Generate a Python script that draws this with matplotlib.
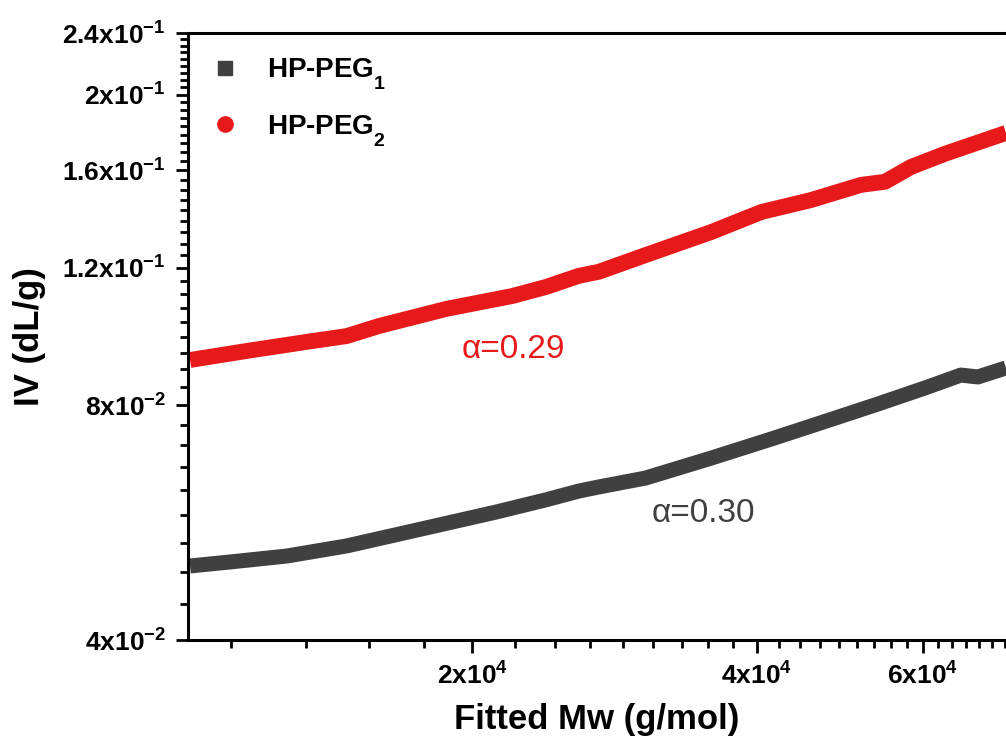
import matplotlib
matplotlib.use("Agg")
import matplotlib.pyplot as plt
from matplotlib.ticker import FixedLocator, FixedFormatter, NullFormatter
from matplotlib import _mathtext

plt.rcParams['font.family'] = ['Liberation Sans', 'DejaVu Sans']
plt.rcParams['mathtext.fontset'] = 'custom'
plt.rcParams['mathtext.rm'] = 'Liberation Sans:bold'
plt.rcParams['mathtext.bf'] = 'Liberation Sans:bold'
plt.rcParams['mathtext.it'] = 'Liberation Sans:bold:italic'
# drop subscripts a little lower, like the reference
try:
    _mathtext.FontConstantsBase.sub1 = 0.85
except Exception:
    pass

# ---- data ----
peg2_mw = [1.005e4, 1.154e4, 1.355e4, 1.472e4, 1.595e4, 1.877e4, 2.204e4, 2.394e4,
           2.594e4, 2.723e4, 3.052e4, 3.584e4, 4.048e4, 4.571e4, 5.162e4, 5.472e4,
           5.830e4, 6.332e4, 7.35e4]
peg2_iv = [0.09142, 0.09389, 0.09669, 0.0981, 0.1011, 0.1063, 0.1104, 0.1134,
           0.1172, 0.1186, 0.1246, 0.1334, 0.1415, 0.1466, 0.1533, 0.1547,
           0.1616, 0.1680, 0.1787]

peg1_mw = [1.005e4, 1.108e4, 1.272e4, 1.472e4, 1.728e4, 2.120e4, 2.394e4, 2.594e4,
           2.723e4, 3.052e4, 3.584e4, 4.147e4, 4.571e4, 5.379e4, 6.075e4, 6.584e4,
           6.862e4, 7.35e4]
peg1_iv = [0.04977, 0.05036, 0.05125, 0.0528, 0.05517, 0.05836, 0.0605, 0.06209,
           0.06284, 0.06452, 0.06845, 0.0724, 0.07524, 0.08028, 0.08442, 0.08744,
           0.08695, 0.0893]

series_labels = [r'HP-PEG$_{1}$', r'HP-PEG$_{2}$']
alpha_labels = [r'α=0.30', r'α=0.29']

x_major = [2e4, 4e4, 6e4]
x_major_labels = [r'2x10$^{4}$', r'4x10$^{4}$', r'6x10$^{4}$']
y_major = [0.04, 0.08, 0.12, 0.16, 0.20, 0.24]
y_major_labels = [r'4x10$^{-2}$', r'8x10$^{-2}$', r'1.2x10$^{-1}$',
                  r'1.6x10$^{-1}$', r'2x10$^{-1}$', r'2.4x10$^{-1}$']

xlim = (1e4, 7.35e4)
ylim = (0.04, 0.24)

c_black = '#404040'
c_red = '#E8191B'

fig = plt.figure(figsize=(10.06, 7.42), dpi=100)
ax = fig.add_axes([188/1006, 102/742, 1 - 188/1006, (742-33-102)/742])

ax.plot(peg1_mw, peg1_iv, color=c_black, lw=10.8, solid_capstyle='butt',
        solid_joinstyle='round')
ax.plot(peg2_mw, peg2_iv, color=c_red, lw=11.4, solid_capstyle='butt',
        solid_joinstyle='round')

ax.set_xscale('log')
ax.set_yscale('log')
ax.set_xlim(*xlim)
ax.set_ylim(*ylim)

# ticks
ax.xaxis.set_major_locator(FixedLocator(x_major))
ax.xaxis.set_major_formatter(FixedFormatter(x_major_labels))
xminor = [k * 2e4 / 9 for k in range(1, 40) if (k % 9) != 0]
xminor = [v for v in xminor if xlim[0] < v < xlim[1]]
ax.xaxis.set_minor_locator(FixedLocator(xminor))
ax.xaxis.set_minor_formatter(NullFormatter())

ax.yaxis.set_major_locator(FixedLocator(y_major))
ax.yaxis.set_major_formatter(FixedFormatter(y_major_labels))
yminor = [k * 0.04 / 9 for k in range(1, 60) if (k % 9) != 0]
yminor = [v for v in yminor if ylim[0] < v < ylim[1]]
ax.yaxis.set_minor_locator(FixedLocator(yminor))
ax.yaxis.set_minor_formatter(NullFormatter())

ax.tick_params(which='major', direction='out', length=9, width=2.0, pad=7,
               labelsize=19)
ax.tick_params(which='minor', direction='out', length=5.5, width=2.0)
for lab in ax.get_xticklabels() + ax.get_yticklabels():
    lab.set_fontweight('bold')

for s in ['left', 'bottom', 'top']:
    ax.spines[s].set_linewidth(2.2)
ax.spines['right'].set_visible(False)

ax.set_xlabel('Fitted Mw (g/mol)', fontsize=25, fontweight='bold', labelpad=10)
ax.set_ylabel('IV (dL/g)', fontsize=25, fontweight='bold', labelpad=12)

# legend
h1, = ax.plot([], [], ls='none', marker='s', ms=10, color=c_black)
h2, = ax.plot([], [], ls='none', marker='o', ms=11, color=c_red)
leg = ax.legend([h1, h2], series_labels, loc='upper left',
                bbox_to_anchor=(0.0, 1.0), frameon=False,
                prop={'weight': 'bold', 'size': 20}, handlelength=0.95,
                handletextpad=1.05, labelspacing=0.75, borderaxespad=0.3,
                borderpad=0.55)

# slope annotations
ax.text(1.947e4, 0.09197, alpha_labels[1], color=c_red, fontsize=24,
        ha='left', va='baseline')
ax.text(3.097e4, 0.05669, alpha_labels[0], color=c_black, fontsize=24,
        ha='left', va='baseline')

fig.savefig('out.png', dpi=100)
